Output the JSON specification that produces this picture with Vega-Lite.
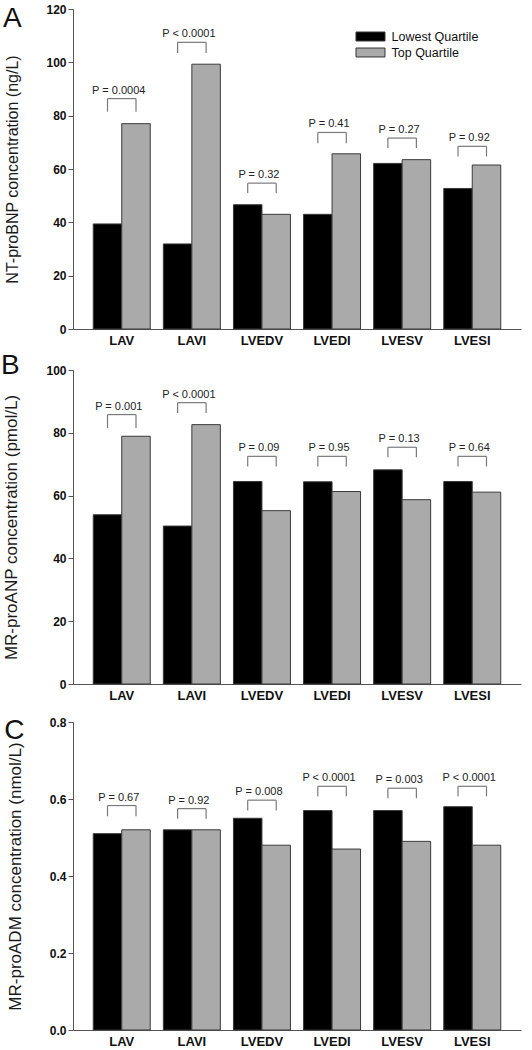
{
  "$schema": "https://vega.github.io/schema/vega-lite/v6.json",
  "padding": {"left": 0, "top": 3, "right": 5, "bottom": 3},
  "spacing": 5,
  "config": {
    "font": "Liberation Sans",
    "view": {"stroke": null},
    "axis": {"grid": false, "domainColor": "#555555", "tickColor": "#555555", "labelColor": "#111111", "titleColor": "#1a1a1a"},
    "axisY": {"labelFontWeight": "bold", "labelFontSize": 12, "tickSize": 5, "labelPadding": 2, "titleFontSize": 17, "titleFontWeight": "normal", "titlePadding": 25},
    "axisX": {"labelFontWeight": "bold", "labelFontSize": 13, "ticks": false, "labelPadding": 5, "labelAngle": 0, "title": null},
    "title": {"anchor": "start", "frame": "bounds", "fontSize": 28, "fontWeight": "normal", "color": "#111111", "offset": 0}
  },
  "datasets": {
    "bars": [
      {"panel": "A", "measure": "LAV", "group": "Lowest Quartile", "value": 39.4},
      {"panel": "A", "measure": "LAV", "group": "Top Quartile", "value": 77.0},
      {"panel": "A", "measure": "LAVI", "group": "Lowest Quartile", "value": 31.9},
      {"panel": "A", "measure": "LAVI", "group": "Top Quartile", "value": 99.3},
      {"panel": "A", "measure": "LVEDV", "group": "Lowest Quartile", "value": 46.6},
      {"panel": "A", "measure": "LVEDV", "group": "Top Quartile", "value": 43.0},
      {"panel": "A", "measure": "LVEDI", "group": "Lowest Quartile", "value": 43.0},
      {"panel": "A", "measure": "LVEDI", "group": "Top Quartile", "value": 65.7},
      {"panel": "A", "measure": "LVESV", "group": "Lowest Quartile", "value": 62.1},
      {"panel": "A", "measure": "LVESV", "group": "Top Quartile", "value": 63.5},
      {"panel": "A", "measure": "LVESI", "group": "Lowest Quartile", "value": 52.7},
      {"panel": "A", "measure": "LVESI", "group": "Top Quartile", "value": 61.5},
      {"panel": "B", "measure": "LAV", "group": "Lowest Quartile", "value": 53.9},
      {"panel": "B", "measure": "LAV", "group": "Top Quartile", "value": 78.9},
      {"panel": "B", "measure": "LAVI", "group": "Lowest Quartile", "value": 50.3},
      {"panel": "B", "measure": "LAVI", "group": "Top Quartile", "value": 82.6},
      {"panel": "B", "measure": "LVEDV", "group": "Lowest Quartile", "value": 64.5},
      {"panel": "B", "measure": "LVEDV", "group": "Top Quartile", "value": 55.2},
      {"panel": "B", "measure": "LVEDI", "group": "Lowest Quartile", "value": 64.4},
      {"panel": "B", "measure": "LVEDI", "group": "Top Quartile", "value": 61.3},
      {"panel": "B", "measure": "LVESV", "group": "Lowest Quartile", "value": 68.2},
      {"panel": "B", "measure": "LVESV", "group": "Top Quartile", "value": 58.7},
      {"panel": "B", "measure": "LVESI", "group": "Lowest Quartile", "value": 64.5},
      {"panel": "B", "measure": "LVESI", "group": "Top Quartile", "value": 61.1},
      {"panel": "C", "measure": "LAV", "group": "Lowest Quartile", "value": 0.51},
      {"panel": "C", "measure": "LAV", "group": "Top Quartile", "value": 0.52},
      {"panel": "C", "measure": "LAVI", "group": "Lowest Quartile", "value": 0.52},
      {"panel": "C", "measure": "LAVI", "group": "Top Quartile", "value": 0.52},
      {"panel": "C", "measure": "LVEDV", "group": "Lowest Quartile", "value": 0.55},
      {"panel": "C", "measure": "LVEDV", "group": "Top Quartile", "value": 0.48},
      {"panel": "C", "measure": "LVEDI", "group": "Lowest Quartile", "value": 0.57},
      {"panel": "C", "measure": "LVEDI", "group": "Top Quartile", "value": 0.47},
      {"panel": "C", "measure": "LVESV", "group": "Lowest Quartile", "value": 0.57},
      {"panel": "C", "measure": "LVESV", "group": "Top Quartile", "value": 0.49},
      {"panel": "C", "measure": "LVESI", "group": "Lowest Quartile", "value": 0.58},
      {"panel": "C", "measure": "LVESI", "group": "Top Quartile", "value": 0.48}
    ],
    "brackets": [
      {"panel": "A", "measure": "LAV", "group": "Lowest Quartile", "top": 86.4, "bottom": 81.5},
      {"panel": "A", "measure": "LAV", "group": "Top Quartile", "top": 86.4, "bottom": 81.5},
      {"panel": "A", "measure": "LAVI", "group": "Lowest Quartile", "top": 107.5, "bottom": 103.5},
      {"panel": "A", "measure": "LAVI", "group": "Top Quartile", "top": 107.5, "bottom": 103.5},
      {"panel": "A", "measure": "LVEDV", "group": "Lowest Quartile", "top": 54.7, "bottom": 51.0},
      {"panel": "A", "measure": "LVEDV", "group": "Top Quartile", "top": 54.7, "bottom": 51.0},
      {"panel": "A", "measure": "LVEDI", "group": "Lowest Quartile", "top": 73.7, "bottom": 69.7},
      {"panel": "A", "measure": "LVEDI", "group": "Top Quartile", "top": 73.7, "bottom": 69.7},
      {"panel": "A", "measure": "LVESV", "group": "Lowest Quartile", "top": 71.6, "bottom": 67.9},
      {"panel": "A", "measure": "LVESV", "group": "Top Quartile", "top": 71.6, "bottom": 67.9},
      {"panel": "A", "measure": "LVESI", "group": "Lowest Quartile", "top": 68.5, "bottom": 64.7},
      {"panel": "A", "measure": "LVESI", "group": "Top Quartile", "top": 68.5, "bottom": 64.7},
      {"panel": "B", "measure": "LAV", "group": "Lowest Quartile", "top": 85.8, "bottom": 81.5},
      {"panel": "B", "measure": "LAV", "group": "Top Quartile", "top": 85.8, "bottom": 81.5},
      {"panel": "B", "measure": "LAVI", "group": "Lowest Quartile", "top": 89.6, "bottom": 86.3},
      {"panel": "B", "measure": "LAVI", "group": "Top Quartile", "top": 89.6, "bottom": 86.3},
      {"panel": "B", "measure": "LVEDV", "group": "Lowest Quartile", "top": 72.5, "bottom": 69.3},
      {"panel": "B", "measure": "LVEDV", "group": "Top Quartile", "top": 72.5, "bottom": 69.3},
      {"panel": "B", "measure": "LVEDI", "group": "Lowest Quartile", "top": 72.5, "bottom": 69.3},
      {"panel": "B", "measure": "LVEDI", "group": "Top Quartile", "top": 72.5, "bottom": 69.3},
      {"panel": "B", "measure": "LVESV", "group": "Lowest Quartile", "top": 75.4, "bottom": 72.2},
      {"panel": "B", "measure": "LVESV", "group": "Top Quartile", "top": 75.4, "bottom": 72.2},
      {"panel": "B", "measure": "LVESI", "group": "Lowest Quartile", "top": 72.5, "bottom": 69.3},
      {"panel": "B", "measure": "LVESI", "group": "Top Quartile", "top": 72.5, "bottom": 69.3},
      {"panel": "C", "measure": "LAV", "group": "Lowest Quartile", "top": 0.583, "bottom": 0.555},
      {"panel": "C", "measure": "LAV", "group": "Top Quartile", "top": 0.583, "bottom": 0.555},
      {"panel": "C", "measure": "LAVI", "group": "Lowest Quartile", "top": 0.575, "bottom": 0.549},
      {"panel": "C", "measure": "LAVI", "group": "Top Quartile", "top": 0.575, "bottom": 0.549},
      {"panel": "C", "measure": "LVEDV", "group": "Lowest Quartile", "top": 0.597, "bottom": 0.570},
      {"panel": "C", "measure": "LVEDV", "group": "Top Quartile", "top": 0.597, "bottom": 0.570},
      {"panel": "C", "measure": "LVEDI", "group": "Lowest Quartile", "top": 0.633, "bottom": 0.607},
      {"panel": "C", "measure": "LVEDI", "group": "Top Quartile", "top": 0.633, "bottom": 0.607},
      {"panel": "C", "measure": "LVESV", "group": "Lowest Quartile", "top": 0.628, "bottom": 0.602},
      {"panel": "C", "measure": "LVESV", "group": "Top Quartile", "top": 0.628, "bottom": 0.602},
      {"panel": "C", "measure": "LVESI", "group": "Lowest Quartile", "top": 0.633, "bottom": 0.607},
      {"panel": "C", "measure": "LVESI", "group": "Top Quartile", "top": 0.633, "bottom": 0.607}
    ],
    "pvals": [
      {"panel": "A", "measure": "LAV", "label": "P = 0.0004", "top": 86.4},
      {"panel": "A", "measure": "LAVI", "label": "P < 0.0001", "top": 107.5},
      {"panel": "A", "measure": "LVEDV", "label": "P = 0.32", "top": 54.7},
      {"panel": "A", "measure": "LVEDI", "label": "P = 0.41", "top": 73.7},
      {"panel": "A", "measure": "LVESV", "label": "P = 0.27", "top": 71.6},
      {"panel": "A", "measure": "LVESI", "label": "P = 0.92", "top": 68.5},
      {"panel": "B", "measure": "LAV", "label": "P = 0.001", "top": 85.8},
      {"panel": "B", "measure": "LAVI", "label": "P < 0.0001", "top": 89.6},
      {"panel": "B", "measure": "LVEDV", "label": "P = 0.09", "top": 72.5},
      {"panel": "B", "measure": "LVEDI", "label": "P = 0.95", "top": 72.5},
      {"panel": "B", "measure": "LVESV", "label": "P = 0.13", "top": 75.4},
      {"panel": "B", "measure": "LVESI", "label": "P = 0.64", "top": 72.5},
      {"panel": "C", "measure": "LAV", "label": "P = 0.67", "top": 0.583},
      {"panel": "C", "measure": "LAVI", "label": "P = 0.92", "top": 0.575},
      {"panel": "C", "measure": "LVEDV", "label": "P = 0.008", "top": 0.597},
      {"panel": "C", "measure": "LVEDI", "label": "P < 0.0001", "top": 0.633},
      {"panel": "C", "measure": "LVESV", "label": "P = 0.003", "top": 0.628},
      {"panel": "C", "measure": "LVESI", "label": "P < 0.0001", "top": 0.633}
    ]
  },
  "vconcat": [
    {
      "width": 448, "height": 320,
      "title": {"text": "A", "dy": 34, "dx": -2},
      "layer": [
        {
          "data": {"name": "bars"},
          "transform": [{"filter": "datum.panel === 'A'"}],
          "mark": {"type": "bar", "stroke": "#3a3a3a", "strokeWidth": 1},
          "encoding": {
            "x": {"field": "measure", "type": "nominal", "sort": ["LAV", "LAVI", "LVEDV", "LVEDI", "LVESV", "LVESI"], "scale": {"paddingInner": 0.187, "paddingOuter": 0.289}},
            "xOffset": {"field": "group", "type": "nominal", "sort": ["Lowest Quartile", "Top Quartile"], "scale": {"paddingInner": 0, "paddingOuter": 0}},
            "y": {"field": "value", "type": "quantitative", "scale": {"domain": [0, 120], "nice": false}, "axis": {"title": "NT-proBNP concentration (ng/L)", "titleFontSize": 16, "values": [0, 20, 40, 60, 80, 100, 120]}},
            "color": {"field": "group", "type": "nominal", "scale": {"domain": ["Lowest Quartile", "Top Quartile"], "range": ["#000000", "#aaaaaa"]},
              "legend": {"title": null, "orient": "none", "legendX": 290, "legendY": 20, "symbolType": "M-2.07,-0.64H2.07V0.64H-2.07Z", "symbolSize": 196, "symbolStrokeColor": "#333333", "symbolStrokeWidth": 1, "labelFontSize": 12.5, "labelOffset": 13.5, "rowPadding": 2, "labelColor": "#111111", "padding": 0, "symbolOpacity": 1}}
          }
        },
        {
          "data": {"name": "brackets"},
          "transform": [{"filter": "datum.panel === 'A'"}],
          "mark": {"type": "rule", "color": "#7a7a7a", "strokeWidth": 1.2, "xOffset": -4},
          "encoding": {
            "x": {"field": "measure", "type": "nominal", "sort": ["LAV", "LAVI", "LVEDV", "LVEDI", "LVESV", "LVESI"]},
            "xOffset": {"field": "group", "type": "nominal", "sort": ["Lowest Quartile", "Top Quartile"]},
            "y": {"field": "top", "type": "quantitative"},
            "y2": {"field": "bottom"}
          }
        },
        {
          "data": {"name": "brackets"},
          "transform": [{"filter": "datum.panel === 'A'"}],
          "mark": {"type": "line", "color": "#7a7a7a", "strokeWidth": 1.2, "xOffset": -4},
          "encoding": {
            "x": {"field": "measure", "type": "nominal", "sort": ["LAV", "LAVI", "LVEDV", "LVEDI", "LVESV", "LVESI"]},
            "xOffset": {"field": "group", "type": "nominal", "sort": ["Lowest Quartile", "Top Quartile"]},
            "y": {"field": "top", "type": "quantitative"},
            "detail": {"field": "measure"}
          }
        },
        {
          "data": {"name": "pvals"},
          "transform": [{"filter": "datum.panel === 'A'"}],
          "mark": {"type": "text", "fontSize": 11, "dy": -5, "dx": -3, "baseline": "alphabetic", "color": "#222222"},
          "encoding": {
            "x": {"field": "measure", "type": "nominal", "sort": ["LAV", "LAVI", "LVEDV", "LVEDI", "LVESV", "LVESI"]},
            "y": {"field": "top", "type": "quantitative"},
            "text": {"field": "label"}
          }
        }
      ]
    },
    {
      "spacing": 14,
      "vconcat": [
        {
          "width": 448, "height": 314,
          "title": {"text": "B", "dy": 20, "dx": -2},
          "layer": [
            {
              "data": {"name": "bars"},
              "transform": [{"filter": "datum.panel === 'B'"}],
              "mark": {"type": "bar", "stroke": "#3a3a3a", "strokeWidth": 1},
              "encoding": {
                "x": {"field": "measure", "type": "nominal", "sort": ["LAV", "LAVI", "LVEDV", "LVEDI", "LVESV", "LVESI"], "scale": {"paddingInner": 0.187, "paddingOuter": 0.289}},
                "xOffset": {"field": "group", "type": "nominal", "sort": ["Lowest Quartile", "Top Quartile"], "scale": {"paddingInner": 0, "paddingOuter": 0}},
                "y": {"field": "value", "type": "quantitative", "scale": {"domain": [0, 100], "nice": false}, "axis": {"title": "MR-proANP concentration (pmol/L)", "values": [0, 20, 40, 60, 80, 100]}},
                "color": {"field": "group", "type": "nominal", "scale": {"domain": ["Lowest Quartile", "Top Quartile"], "range": ["#000000", "#aaaaaa"]}, "legend": null}
              }
            },
            {
              "data": {"name": "brackets"},
              "transform": [{"filter": "datum.panel === 'B'"}],
              "mark": {"type": "rule", "color": "#7a7a7a", "strokeWidth": 1.2, "xOffset": -4},
              "encoding": {
                "x": {"field": "measure", "type": "nominal", "sort": ["LAV", "LAVI", "LVEDV", "LVEDI", "LVESV", "LVESI"]},
                "xOffset": {"field": "group", "type": "nominal", "sort": ["Lowest Quartile", "Top Quartile"]},
                "y": {"field": "top", "type": "quantitative"},
                "y2": {"field": "bottom"}
              }
            },
            {
              "data": {"name": "brackets"},
              "transform": [{"filter": "datum.panel === 'B'"}],
              "mark": {"type": "line", "color": "#7a7a7a", "strokeWidth": 1.2, "xOffset": -4},
              "encoding": {
                "x": {"field": "measure", "type": "nominal", "sort": ["LAV", "LAVI", "LVEDV", "LVEDI", "LVESV", "LVESI"]},
                "xOffset": {"field": "group", "type": "nominal", "sort": ["Lowest Quartile", "Top Quartile"]},
                "y": {"field": "top", "type": "quantitative"},
                "detail": {"field": "measure"}
              }
            },
            {
              "data": {"name": "pvals"},
              "transform": [{"filter": "datum.panel === 'B'"}],
              "mark": {"type": "text", "fontSize": 11, "dy": -5, "dx": -3, "baseline": "alphabetic", "color": "#222222"},
              "encoding": {
                "x": {"field": "measure", "type": "nominal", "sort": ["LAV", "LAVI", "LVEDV", "LVEDI", "LVESV", "LVESI"]},
                "y": {"field": "top", "type": "quantitative"},
                "text": {"field": "label"}
              }
            }
          ]
        },
        {
          "width": 448, "height": 308,
          "title": {"text": "C", "dy": 32.5, "dx": -2},
          "layer": [
            {
              "data": {"name": "bars"},
              "transform": [{"filter": "datum.panel === 'C'"}],
              "mark": {"type": "bar", "stroke": "#3a3a3a", "strokeWidth": 1},
              "encoding": {
                "x": {"field": "measure", "type": "nominal", "sort": ["LAV", "LAVI", "LVEDV", "LVEDI", "LVESV", "LVESI"], "scale": {"paddingInner": 0.187, "paddingOuter": 0.289}},
                "xOffset": {"field": "group", "type": "nominal", "sort": ["Lowest Quartile", "Top Quartile"], "scale": {"paddingInner": 0, "paddingOuter": 0}},
                "y": {"field": "value", "type": "quantitative", "scale": {"domain": [0, 0.8], "nice": false}, "axis": {"title": "MR-proADM concentration (nmol/L)", "values": [0, 0.2, 0.4, 0.6, 0.8], "format": ".1f"}},
                "color": {"field": "group", "type": "nominal", "scale": {"domain": ["Lowest Quartile", "Top Quartile"], "range": ["#000000", "#aaaaaa"]}, "legend": null}
              }
            },
            {
              "data": {"name": "brackets"},
              "transform": [{"filter": "datum.panel === 'C'"}],
              "mark": {"type": "rule", "color": "#7a7a7a", "strokeWidth": 1.2, "xOffset": -4},
              "encoding": {
                "x": {"field": "measure", "type": "nominal", "sort": ["LAV", "LAVI", "LVEDV", "LVEDI", "LVESV", "LVESI"]},
                "xOffset": {"field": "group", "type": "nominal", "sort": ["Lowest Quartile", "Top Quartile"]},
                "y": {"field": "top", "type": "quantitative"},
                "y2": {"field": "bottom"}
              }
            },
            {
              "data": {"name": "brackets"},
              "transform": [{"filter": "datum.panel === 'C'"}],
              "mark": {"type": "line", "color": "#7a7a7a", "strokeWidth": 1.2, "xOffset": -4},
              "encoding": {
                "x": {"field": "measure", "type": "nominal", "sort": ["LAV", "LAVI", "LVEDV", "LVEDI", "LVESV", "LVESI"]},
                "xOffset": {"field": "group", "type": "nominal", "sort": ["Lowest Quartile", "Top Quartile"]},
                "y": {"field": "top", "type": "quantitative"},
                "detail": {"field": "measure"}
              }
            },
            {
              "data": {"name": "pvals"},
              "transform": [{"filter": "datum.panel === 'C'"}],
              "mark": {"type": "text", "fontSize": 11, "dy": -5, "dx": -3, "baseline": "alphabetic", "color": "#222222"},
              "encoding": {
                "x": {"field": "measure", "type": "nominal", "sort": ["LAV", "LAVI", "LVEDV", "LVEDI", "LVESV", "LVESI"]},
                "y": {"field": "top", "type": "quantitative"},
                "text": {"field": "label"}
              }
            }
          ]
        }
      ]
    }
  ]
}
